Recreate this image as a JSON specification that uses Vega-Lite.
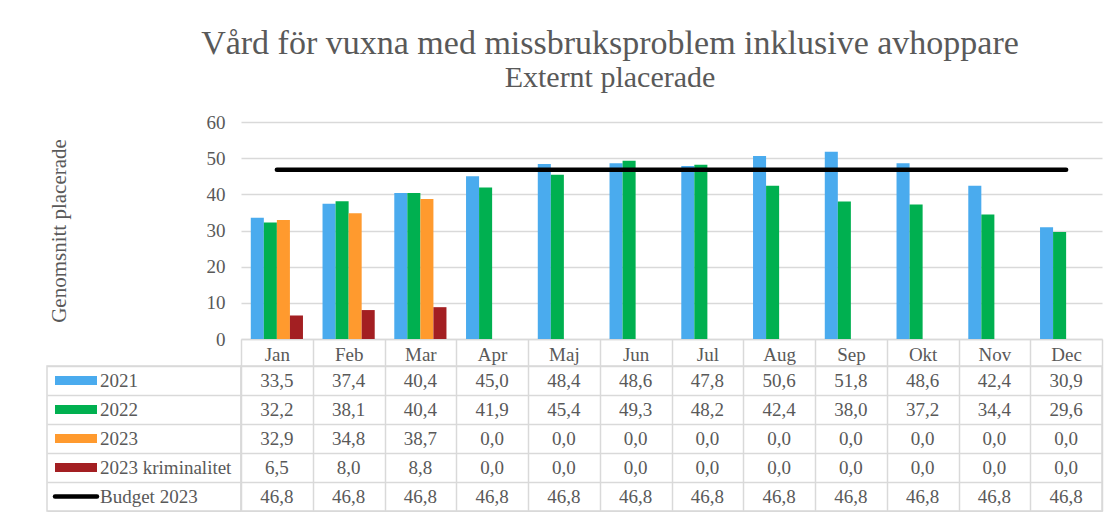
{
  "$schema": "https://vega.github.io/schema/vega-lite/v6.json",
  "background": "white",
  "padding": {"left": 45, "top": 27, "right": 10, "bottom": 0},
  "title": {
    "text": "Vård för vuxna med missbruksproblem inklusive avhoppare",
    "subtitle": "Externt placerade",
    "anchor": "middle",
    "dx": 36,
    "font": "Liberation Serif",
    "fontSize": 34,
    "fontWeight": "normal",
    "color": "#595959",
    "subtitleFont": "Liberation Serif",
    "subtitleFontSize": 30,
    "subtitleColor": "#595959",
    "subtitlePadding": 2,
    "offset": 20
  },
  "datasets": {
    "vals": [
      {"m": "Jan", "s": "2021", "v": 33.5}, {"m": "Feb", "s": "2021", "v": 37.4}, {"m": "Mar", "s": "2021", "v": 40.4}, {"m": "Apr", "s": "2021", "v": 45.0}, {"m": "Maj", "s": "2021", "v": 48.4}, {"m": "Jun", "s": "2021", "v": 48.6}, {"m": "Jul", "s": "2021", "v": 47.8}, {"m": "Aug", "s": "2021", "v": 50.6}, {"m": "Sep", "s": "2021", "v": 51.8}, {"m": "Okt", "s": "2021", "v": 48.6}, {"m": "Nov", "s": "2021", "v": 42.4}, {"m": "Dec", "s": "2021", "v": 30.9},
      {"m": "Jan", "s": "2022", "v": 32.2}, {"m": "Feb", "s": "2022", "v": 38.1}, {"m": "Mar", "s": "2022", "v": 40.4}, {"m": "Apr", "s": "2022", "v": 41.9}, {"m": "Maj", "s": "2022", "v": 45.4}, {"m": "Jun", "s": "2022", "v": 49.3}, {"m": "Jul", "s": "2022", "v": 48.2}, {"m": "Aug", "s": "2022", "v": 42.4}, {"m": "Sep", "s": "2022", "v": 38.0}, {"m": "Okt", "s": "2022", "v": 37.2}, {"m": "Nov", "s": "2022", "v": 34.4}, {"m": "Dec", "s": "2022", "v": 29.6},
      {"m": "Jan", "s": "2023", "v": 32.9}, {"m": "Feb", "s": "2023", "v": 34.8}, {"m": "Mar", "s": "2023", "v": 38.7}, {"m": "Apr", "s": "2023", "v": 0.0}, {"m": "Maj", "s": "2023", "v": 0.0}, {"m": "Jun", "s": "2023", "v": 0.0}, {"m": "Jul", "s": "2023", "v": 0.0}, {"m": "Aug", "s": "2023", "v": 0.0}, {"m": "Sep", "s": "2023", "v": 0.0}, {"m": "Okt", "s": "2023", "v": 0.0}, {"m": "Nov", "s": "2023", "v": 0.0}, {"m": "Dec", "s": "2023", "v": 0.0},
      {"m": "Jan", "s": "2023 kriminalitet", "v": 6.5}, {"m": "Feb", "s": "2023 kriminalitet", "v": 8.0}, {"m": "Mar", "s": "2023 kriminalitet", "v": 8.8}, {"m": "Apr", "s": "2023 kriminalitet", "v": 0.0}, {"m": "Maj", "s": "2023 kriminalitet", "v": 0.0}, {"m": "Jun", "s": "2023 kriminalitet", "v": 0.0}, {"m": "Jul", "s": "2023 kriminalitet", "v": 0.0}, {"m": "Aug", "s": "2023 kriminalitet", "v": 0.0}, {"m": "Sep", "s": "2023 kriminalitet", "v": 0.0}, {"m": "Okt", "s": "2023 kriminalitet", "v": 0.0}, {"m": "Nov", "s": "2023 kriminalitet", "v": 0.0}, {"m": "Dec", "s": "2023 kriminalitet", "v": 0.0},
      {"m": "Jan", "s": "Budget 2023", "v": 46.8}, {"m": "Feb", "s": "Budget 2023", "v": 46.8}, {"m": "Mar", "s": "Budget 2023", "v": 46.8}, {"m": "Apr", "s": "Budget 2023", "v": 46.8}, {"m": "Maj", "s": "Budget 2023", "v": 46.8}, {"m": "Jun", "s": "Budget 2023", "v": 46.8}, {"m": "Jul", "s": "Budget 2023", "v": 46.8}, {"m": "Aug", "s": "Budget 2023", "v": 46.8}, {"m": "Sep", "s": "Budget 2023", "v": 46.8}, {"m": "Okt", "s": "Budget 2023", "v": 46.8}, {"m": "Nov", "s": "Budget 2023", "v": 46.8}, {"m": "Dec", "s": "Budget 2023", "v": 46.8}
    ],
    "series": [
      {"s": "2021"}, {"s": "2022"}, {"s": "2023"}, {"s": "2023 kriminalitet"}, {"s": "Budget 2023"}
    ]
  },
  "columns": 2,
  "bounds": "flush",
  "spacing": {"row": 27, "column": 0},
  "concat": [
    {
      "width": 194,
      "height": 217,
      "view": {"stroke": null},
      "data": {"values": []},
      "mark": {"type": "text"},
      "encoding": {}
    },
    {
      "width": 861,
      "height": 217,
      "view": {"stroke": null},
      "data": {"name": "vals"},
      "resolve": {"axis": {"y": "independent"}},
      "layer": [
        {
          "transform": [{"filter": "datum.s != 'Budget 2023'"}],
          "mark": {"type": "bar"},
          "encoding": {
            "x": {
              "field": "m", "type": "nominal",
              "scale": {"domain": ["Jan", "Feb", "Mar", "Apr", "Maj", "Jun", "Jul", "Aug", "Sep", "Okt", "Nov", "Dec"], "paddingInner": 0, "paddingOuter": 0},
              "axis": {
                "title": null, "labelAngle": 0, "labelFont": "Liberation Serif", "labelFontSize": 19, "labelColor": "#595959",
                "ticks": true, "tickBand": "extent", "tickSize": 27, "tickColor": "#D9D9D9", "tickWidth": 1.5,
                "domain": true, "domainColor": "#D9D9D9", "domainWidth": 1.5,
                "labelPadding": -6, "labelBaseline": "alphabetic", "grid": false
              }
            },
            "y": {
              "field": "v", "type": "quantitative",
              "scale": {"domain": [0, 60], "nice": false, "zero": true},
              "axis": {
                "orient": "left", "domain": false, "ticks": false, "grid": false, "labelFont": "Liberation Serif", "labelFontSize": 19, "labelColor": "#595959", "labelPadding": 16,
                "title": "Genomsnitt placerade", "titleFont": "Liberation Serif", "titleFontSize": 21, "titleFontWeight": "normal", "titleColor": "#595959", "titlePadding": 137
              }
            },
            "xOffset": {
              "field": "s", "type": "nominal",
              "scale": {"domain": ["2021", "2022", "2023", "2023 kriminalitet"], "paddingInner": 0, "paddingOuter": 0.75}
            },
            "color": {
              "field": "s", "type": "nominal",
              "scale": {"domain": ["2021", "2022", "2023", "2023 kriminalitet", "Budget 2023"], "range": ["#4AABEE", "#00B050", "#FF9A2E", "#A31F22", "#000000"]},
              "legend": null
            }
          }
        },
        {
          "transform": [{"filter": "datum.s == 'Budget 2023'"}],
          "mark": {"type": "line", "strokeWidth": 4.5, "strokeCap": "round", "color": "#000000"},
          "encoding": {
            "x": {"field": "m", "type": "nominal"},
            "y": {
              "field": "v", "type": "quantitative",
              "axis": {
                "orient": "right", "tickCount": 7, "labels": false, "title": null, "domain": false, "grid": false,
                "ticks": true, "tickSize": -861, "tickColor": "#D9D9D9", "tickWidth": 1.5
              }
            }
          }
        }
      ]
    },
    {
      "width": 194,
      "height": 145,
      "view": {"stroke": "#D9D9D9", "strokeWidth": 1.5},
      "data": {"name": "series"},
      "encoding": {
        "y": {
          "field": "s", "type": "nominal",
          "scale": {"domain": ["2021", "2022", "2023", "2023 kriminalitet", "Budget 2023"], "paddingInner": 0, "paddingOuter": 0},
          "axis": {"grid": true, "tickBand": "extent", "gridColor": "#D9D9D9", "gridWidth": 1.5, "labels": false, "ticks": false, "domain": false, "title": null}
        }
      },
      "layer": [
        {
          "transform": [{"filter": "datum.s != 'Budget 2023'"}],
          "mark": {"type": "point", "shape": "M-1,-0.21H1V0.21H-1Z", "size": 1764, "filled": true, "opacity": 1},
          "encoding": {
            "x": {"datum": 29, "type": "quantitative", "scale": {"domain": [0, 194], "nice": false, "zero": false}, "axis": null},
            "color": {
              "field": "s", "type": "nominal",
              "scale": {"domain": ["2021", "2022", "2023", "2023 kriminalitet", "Budget 2023"], "range": ["#4AABEE", "#00B050", "#FF9A2E", "#A31F22", "#000000"]},
              "legend": null
            }
          }
        },
        {
          "transform": [{"filter": "datum.s == 'Budget 2023'"}],
          "mark": {"type": "point", "shape": "stroke", "size": 1764, "filled": false, "opacity": 1, "strokeWidth": 4.5, "strokeCap": "round", "color": "#000000"},
          "encoding": {
            "x": {"datum": 29, "type": "quantitative"}
          }
        },
        {
          "mark": {"type": "text", "align": "left", "baseline": "middle", "font": "Liberation Serif", "fontSize": 19, "color": "#595959"},
          "encoding": {
            "x": {"datum": 53, "type": "quantitative"},
            "text": {"field": "s", "type": "nominal"}
          }
        }
      ]
    },
    {
      "width": 861,
      "height": 145,
      "view": {"stroke": "#D9D9D9", "strokeWidth": 1.5},
      "data": {"name": "vals"},
      "mark": {"type": "text", "align": "center", "baseline": "middle", "font": "Liberation Serif", "fontSize": 19, "color": "#595959"},
      "encoding": {
        "x": {
          "field": "m", "type": "nominal",
          "scale": {"domain": ["Jan", "Feb", "Mar", "Apr", "Maj", "Jun", "Jul", "Aug", "Sep", "Okt", "Nov", "Dec"], "paddingInner": 0, "paddingOuter": 0},
          "axis": {"grid": true, "tickBand": "extent", "gridColor": "#D9D9D9", "gridWidth": 1.5, "labels": false, "ticks": false, "domain": false, "title": null}
        },
        "y": {
          "field": "s", "type": "nominal",
          "scale": {"domain": ["2021", "2022", "2023", "2023 kriminalitet", "Budget 2023"], "paddingInner": 0, "paddingOuter": 0},
          "axis": {"grid": true, "tickBand": "extent", "gridColor": "#D9D9D9", "gridWidth": 1.5, "labels": false, "ticks": false, "domain": false, "title": null}
        },
        "text": {"field": "v", "type": "quantitative", "format": ".1f"}
      }
    }
  ],
  "config": {
    "font": "Liberation Serif",
    "axisQuantitative": {"tickCount": 7, "labelOverlap": false},
    "locale": {
      "number": {"decimal": ",", "thousands": "\u00a0", "grouping": [3], "currency": ["", " kr"]}
    }
  }
}
